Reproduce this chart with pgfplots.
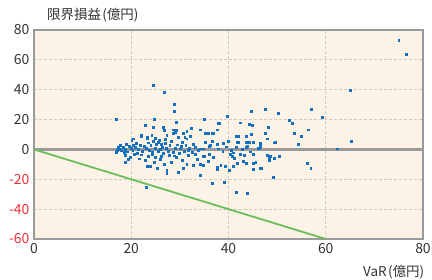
\documentclass[border=0pt]{standalone}
\usepackage{pgfplots}
\pgfplotsset{compat=1.18}
\usepackage{fontspec}
\setmainfont{Noto Sans CJK JP}
\definecolor{bgc}{HTML}{FCF3E6}
\definecolor{framegray}{HTML}{9A9A9A}
\definecolor{gridgray}{HTML}{CFCAC2}
\definecolor{labgray}{HTML}{333333}
\definecolor{negred}{HTML}{E8303A}
\definecolor{ptblue}{HTML}{1270BE}
\definecolor{lgreen}{HTML}{6CBE5C}
\begin{document}
\begin{tikzpicture}
\path[use as bounding box] (-34bp,-41bp) rectangle (398bp,239bp);
\begin{axis}[
  scale only axis, width=389bp, height=209bp,
  at={(0,0)}, anchor=south west,
  xmin=0, xmax=80, ymin=-60, ymax=80,
  xtick={0,20,40,60,80}, ytick={-60,-40,-20,0,20,40,60,80},
  yticklabels={{\color{negred}-60},{\color{negred}-40},{\color{negred}-20},0,20,40,60,80},
  major tick length=0pt,
  axis line style={draw=framegray, line width=2.4bp},
  axis background/.style={fill=bgc},
  grid=major,
  major grid style={draw=gridgray, line width=0.9bp, dash pattern=on 2.5bp off 2.5bp},
  tick label style={font=\fontsize{14}{14}\selectfont, text=labgray},
  /pgf/number format/assume math mode=true,
  yticklabel style={xshift=-1bp},
  xticklabel style={yshift=-1bp},
]
\addplot[draw=framegray, line width=2.2bp] coordinates {(0,0) (80,0)};
\addplot[draw=lgreen, line width=1.8bp] coordinates {(0,0) (60,-60)};
\addplot[only marks, mark=square*, mark size=0.95bp, color=ptblue] table {
x y
75.0 73.2
76.6 63.9
65.1 39.9
65.2 5.6
62.3 0.5
24.5 43.0
26.7 38.4
16.9 20.4
24.7 20.0
28.8 30.3
28.8 25.6
44.7 25.8
39.8 22.1
35.0 20.1
29.3 18.4
38.0 17.7
42.4 17.9
44.3 17.0
47.6 27.1
50.2 24.0
57.1 26.9
59.2 21.7
52.4 19.7
53.1 17.7
44.8 16.4
48.1 14.8
56.4 13.2
47.6 10.6
53.5 10.8
54.9 8.7
44.7 10.0
41.5 8.7
42.1 8.7
47.9 7.2
37.6 13.2
36.7 10.6
35.3 10.6
34.1 13.2
22.8 16.2
24.5 15.0
24.2 9.4
22.1 9.0
20.4 7.2
26.6 15.0
26.7 12.8
28.6 13.2
29.0 11.7
31.0 8.3
32.4 14.3
35.8 10.6
36.9 11.0
37.9 17.3
30.7 11.0
32.1 8.7
31.4 7.2
23.2 7.9
27.3 9.4
29.7 8.3
31.4 12.1
35.4 10.6
41.7 8.7
43.7 8.7
28.6 10.6
29.3 12.8
22.1 9.4
23.2 7.2
20.1 6.0
54.4 3.8
49.6 4.9
46.3 0.9
46.5 2.0
43.9 2.0
45.0 4.9
43.7 4.9
41.8 4.9
40.0 5.4
41.5 1.5
37.6 3.4
36.7 5.4
36.0 2.2
34.8 0.5
44.2 4.9
42.0 4.9
43.7 1.5
36.2 2.7
35.2 4.9
30.4 4.9
32.8 3.8
37.9 0.5
34.1 0.5
30.0 0.5
49.4 4.5
46.5 4.2
46.1 1.1
26.1 3.8
26.3 1.5
17.3 1.5
17.7 2.7
20.4 2.7
34.8 -4.5
36.9 -5.2
40.8 -4.7
41.2 -5.8
41.0 -2.2
42.4 -3.4
43.3 -4.0
45.1 -2.9
47.9 -3.6
48.5 -4.7
50.4 -4.7
49.4 -5.8
48.3 -7.4
45.1 -9.2
43.7 -9.2
43.0 -8.1
41.8 -9.2
41.0 -11.4
40.2 -14.1
46.6 -12.3
45.0 -13.2
49.2 -18.6
41.5 -28.9
43.9 -29.2
36.7 -22.7
39.1 -22.0
37.6 -13.0
38.4 -10.3
39.4 -11.4
56.1 -9.2
56.9 -12.3
34.1 -17.5
34.8 -10.3
35.8 -7.9
36.0 -2.9
37.7 -11.9
29.3 -5.2
30.4 -7.4
31.7 -4.0
33.1 -3.4
33.5 -6.3
35.0 -4.7
32.8 -10.3
34.1 -9.6
31.4 -9.6
30.7 -12.3
29.7 -15.3
16.9 -1.8
18.7 -4.0
18.7 -8.5
19.7 -5.2
23.2 -11.2
23.9 -11.2
23.0 -25.4
24.9 -5.2
25.9 -6.3
27.3 -15.9
27.3 -13.7
28.3 -8.5
31.7 -0.7
45.6 -8.5
46.7 -12.6
48.4 -5.2
17.5 0.3
18.0 -0.8
18.3 1.2
18.8 0.4
19.2 -1.5
19.5 2.0
19.9 0.8
20.3 -0.5
20.8 1.6
21.2 -2.4
21.5 0.2
21.9 3.1
22.3 -1.1
22.6 1.9
23.0 0.6
23.4 4.5
23.7 -0.3
24.0 2.6
24.3 -2.0
24.6 5.3
24.9 0.9
25.2 3.5
25.5 -1.2
25.8 6.2
26.0 0.2
26.5 -2.8
26.9 4.1
27.2 1.0
27.6 -0.9
27.9 2.9
28.3 5.6
28.6 -1.8
29.0 0.7
29.4 3.2
29.8 -2.6
30.2 1.9
30.8 -1.4
31.2 2.6
32.0 0.8
32.6 -1.9
33.2 1.6
33.8 -0.6
17.2 -0.4
18.5 -2.1
19.0 3.5
21.0 4.4
22.0 -3.5
23.5 -4.8
24.4 -3.2
25.0 7.5
25.6 4.8
26.2 -4.5
27.0 6.8
27.8 -3.7
28.9 -4.2
21.6 -6.2
20.6 -3.0
19.3 -6.8
22.8 -7.5
24.7 -8.8
26.8 -9.8
25.4 -12.5
38.8 -1.2
39.5 1.8
40.5 -0.8
42.8 0.4
44.5 -1.5
39.0 3.9
40.4 -3.1
};
\end{axis}
\node[anchor=west, inner sep=0pt, text=labgray, font=\fontsize{13.5}{14}\selectfont] at (13bp,224bp) {限界損益\hspace{1.5bp}(億円)};
\node[anchor=west, inner sep=0pt, text=labgray, font=\fontsize{13.5}{14}\selectfont] at (329bp,-33bp) {VaR\hspace{1.5bp}(億円)};
\end{tikzpicture}
\end{document}
